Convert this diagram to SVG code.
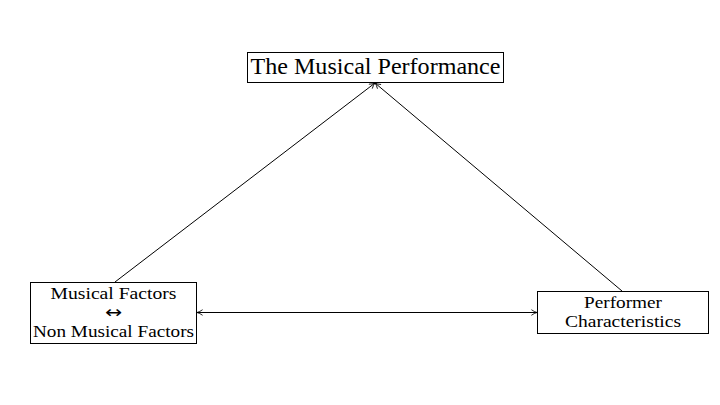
<svg xmlns="http://www.w3.org/2000/svg" width="720" height="405" viewBox="0 0 720 405">
<style>
.box{fill:#fff;stroke:#000;stroke-width:1}
.t{font-family:"Liberation Serif","DejaVu Serif",serif;fill:#000;text-anchor:middle}
.big{font-size:23px}
.sm{font-size:16.5px}
.arr{font-family:"DejaVu Sans",sans-serif;font-size:17px}
.c{stroke:#000;stroke-width:1;fill:none}
</style>
<defs>
<marker id="ah" viewBox="0 0 10 10" refX="9" refY="5" markerWidth="7" markerHeight="7" orient="auto-start-reverse" markerUnits="userSpaceOnUse">
<path d="M1,1 Q5,4 9,5 Q5,6 1,9" fill="none" stroke="#000" stroke-width="1.2"/>
</marker>
</defs>
<rect width="720" height="405" fill="#fff"/>
<g id="connectors">
<line class="c" x1="115" y1="282" x2="375" y2="83" marker-end="url(#ah)"/>
<line class="c" x1="622" y1="291" x2="375" y2="83" marker-end="url(#ah)"/>
<line class="c" x1="197" y1="312.5" x2="537" y2="312.5" marker-start="url(#ah)" marker-end="url(#ah)"/>
</g>
<g id="performance">
<rect class="box" x="247.5" y="52.5" width="256" height="30"/>
<text class="t big" x="375.5" y="74" textLength="250" lengthAdjust="spacingAndGlyphs">The Musical Performance</text>
</g>
<g id="factors">
<rect class="box" x="30.5" y="282.5" width="166" height="61"/>
<text class="t sm" x="113.5" y="299" textLength="126" lengthAdjust="spacingAndGlyphs">Musical Factors</text>
<text class="t arr" x="113.5" y="318" textLength="17" lengthAdjust="spacingAndGlyphs">↔</text>
<text class="t sm" x="113.5" y="337" textLength="161" lengthAdjust="spacingAndGlyphs">Non Musical Factors</text>
</g>
<g id="performer">
<rect class="box" x="537.5" y="291.5" width="171" height="42"/>
<text class="t sm" x="623" y="308" textLength="78" lengthAdjust="spacingAndGlyphs">Performer</text>
<text class="t sm" x="623" y="327" textLength="116" lengthAdjust="spacingAndGlyphs">Characteristics</text>
</g>
</svg>
